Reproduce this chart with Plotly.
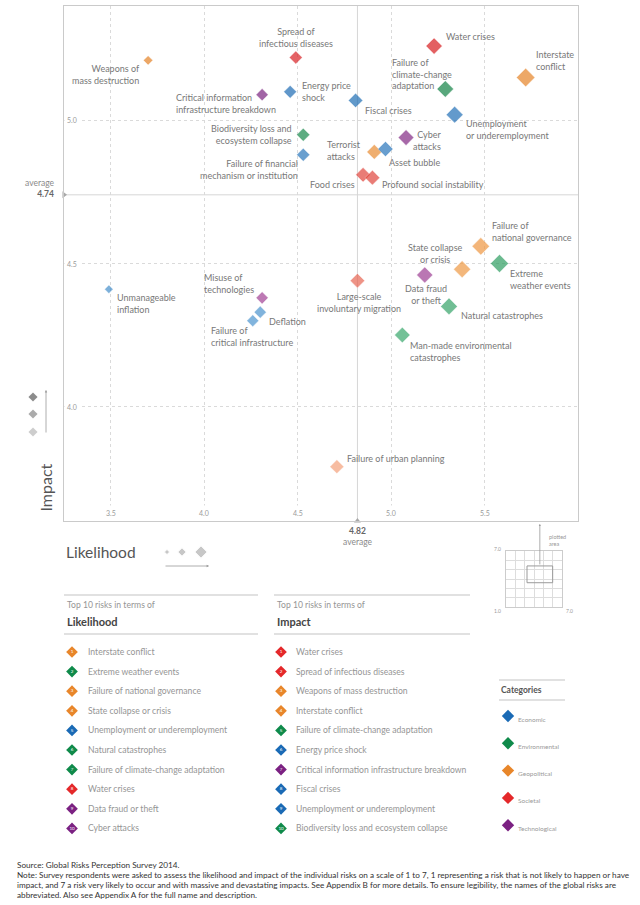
import plotly.graph_objects as go

W, H = 640, 905
FONT = "Lato"

# ---------------- data ----------------
RISKS = [
    "Weapons of mass destruction", "Spread of infectious diseases",
    "Critical information infrastructure breakdown", "Energy price shock",
    "Biodiversity loss and ecosystem collapse", "Failure of financial mechanism or institution",
    "Water crises", "Interstate conflict", "Failure of climate-change adaptation",
    "Fiscal crises", "Unemployment or underemployment", "Cyber attacks",
    "Terrorist attacks", "Asset bubble", "Food crises", "Profound social instability",
    "Failure of national governance", "State collapse or crisis", "Extreme weather events",
    "Data fraud or theft", "Large-scale involuntary migration", "Natural catastrophes",
    "Man-made environmental catastrophes", "Failure of urban planning",
    "Unmanageable inflation", "Misuse of technologies", "Deflation",
    "Failure of critical infrastructure",
]
LABELS = [
    "Weapons of<br>mass destruction", "Spread of<br>infectious diseases",
    "Critical information<br>infrastructure breakdown", "Energy price<br>shock",
    "Biodiversity loss and<br>ecosystem collapse", "Failure of financial<br>mechanism or institution",
    "Water crises", "Interstate<br>conflict", "Failure of<br>climate-change<br>adaptation",
    "Fiscal crises", "Unemployment<br>or underemployment", "Cyber<br>attacks",
    "Terrorist<br>attacks", "Asset bubble", "Food crises", "Profound social instability",
    "Failure of<br>national governance", "State collapse<br>or crisis", "Extreme<br>weather events",
    "Data fraud<br>or theft", "Large-scale<br>involuntary migration", "Natural catastrophes",
    "Man-made environmental<br>catastrophes", "Failure of urban planning",
    "Unmanageable<br>inflation", "Misuse of<br>technologies", "Deflation",
    "Failure of<br>critical infrastructure",
]
CATEGORY = [
    "Geopolitical", "Societal", "Technological", "Economic", "Environmental", "Economic",
    "Societal", "Geopolitical", "Environmental", "Economic", "Economic", "Technological",
    "Geopolitical", "Economic", "Societal", "Societal", "Geopolitical", "Geopolitical",
    "Environmental", "Technological", "Societal", "Environmental", "Environmental",
    "Societal", "Economic", "Technological", "Economic", "Economic",
]
LIKELIHOOD = [3.70, 4.49, 4.31, 4.46, 4.53, 4.53, 5.23, 5.72, 5.29, 4.81, 5.34, 5.08,
              4.91, 4.97, 4.85, 4.90, 5.48, 5.38, 5.58, 5.18, 4.82, 5.31, 5.06, 4.71,
              3.49, 4.31, 4.30, 4.26]
IMPACT = [5.21, 5.22, 5.09, 5.10, 4.95, 4.88, 5.26, 5.15, 5.11, 5.07, 5.02, 4.94,
          4.89, 4.90, 4.81, 4.80, 4.56, 4.48, 4.50, 4.46, 4.44, 4.35, 4.25, 3.79,
          4.41, 4.38, 4.33, 4.30]
AVG_LIKELIHOOD = 4.82
AVG_IMPACT = 4.74
X_TICKS = [3.5, 4.0, 4.5, 5.0, 5.5]
Y_TICKS = [4.0, 4.5, 5.0]
X_RANGE = [3.25, 6.0]
Y_RANGE = [3.6, 5.4]
SCALE_RANGE = [1, 7]

TOP_LIKELIHOOD = [
    "Interstate conflict", "Extreme weather events", "Failure of national governance",
    "State collapse or crisis", "Unemployment or underemployment", "Natural catastrophes",
    "Failure of climate-change adaptation", "Water crises", "Data fraud or theft", "Cyber attacks",
]
TOP_IMPACT = [
    "Water crises", "Spread of infectious diseases", "Weapons of mass destruction",
    "Interstate conflict", "Failure of climate-change adaptation", "Energy price shock",
    "Critical information infrastructure breakdown", "Fiscal crises",
    "Unemployment or underemployment", "Biodiversity loss and ecosystem collapse",
]
CATEGORIES = ["Economic", "Environmental", "Geopolitical", "Societal", "Technological"]

FOOTNOTE = [
    "Source: Global Risks Perception Survey 2014.",
    "Note: Survey respondents were asked to assess the likelihood and impact of the individual risks on a scale of 1 to 7, 1 representing a risk that is not likely to happen or have",
    "impact, and 7 a risk very likely to occur and with massive and devastating impacts. See Appendix B for more details. To ensure legibility, the names of the global risks are",
    "abbreviated. Also see Appendix A for the full name and description.",
]

# ---------------- styles ----------------
CAT_COLORS = {
    "Economic": "#1a6ab5", "Environmental": "#0f8a4a", "Geopolitical": "#e8862a",
    "Societal": "#e4282a", "Technological": "#7b2182",
}
# (high-impact shade, low-impact shade) per category
CAT_SHADES = {
    "Economic": ("#1262ad", "#6aaee0"), "Environmental": ("#0a7a3e", "#4cbb80"),
    "Geopolitical": ("#e47f22", "#f8b060"), "Societal": ("#d7191f", "#f5a07a"),
    "Technological": ("#6e1a78", "#c25aa8"),
}
# label placement: (xanchor, align, xshift, yshift)
LABEL_POS = [
    ("right", "right", -6, -14), ("center", "center", 0, 20), ("left", "left", -88, -9),
    ("left", "left", 10, 0), ("right", "right", -9, 0), ("right", "right", -3, -15),
    ("left", "left", 10, 10), ("left", "left", 8, 17), ("left", "left", -55, 15),
    ("left", "left", 7, -10), ("left", "left", 9, -15), ("right", "right", 38, -3),
    ("right", "left", -11, 1), ("left", "left", 2, -13), ("right", "right", -6, -10),
    ("left", "left", 8, -7), ("left", "left", 9, 15), ("center", "center", -27, 16),
    ("left", "left", 8, -16), ("center", "center", 1, -20), ("center", "center", 2, -22),
    ("left", "left", 10, -9), ("left", "left", 6, -16), ("left", "left", 8, 8),
    ("left", "left", 6, -14), ("right", "left", -6, 14), ("left", "left", 7, -9),
    ("left", "left", -44, -16),
]

MAIN_L, MAIN_R, MAIN_T, MAIN_B = 64, 578, 6, 521
INSET_L, INSET_R, INSET_T, INSET_B = 506, 562, 551, 607
LABEL_COLOR = "#787878"
TABLE_COLOR = "#959595"


def px(x):
    return x / W


def py(y):
    return 1 - y / H


def hex_rgb(h):
    return [int(h[i:i + 2], 16) for i in (1, 3, 5)]


def shade(cat, impact):
    dark, light = (hex_rgb(c) for c in CAT_SHADES[cat])
    t = min(max((5.3 - impact) / 1.5, 0.0), 1.0)
    r, g, b = (int(round(d + (l - d) * t)) for d, l in zip(dark, light))
    return f"rgb({r},{g},{b})"


fig = go.Figure()

# ---------------- main scatter ----------------
colors = [shade(c, imp) for c, imp in zip(CATEGORY, IMPACT)]
sizes = [(8.5 + (lk - 3.5) * 4.5) / 1.3 for lk in LIKELIHOOD]
fig.add_trace(go.Scatter(
    x=LIKELIHOOD, y=IMPACT, mode="markers", text=RISKS, hoverinfo="text",
    marker=dict(symbol="diamond", size=sizes, color=colors, line=dict(color="white", width=0.4)),
    cliponaxis=False, showlegend=False,
))
# average pointers
fig.add_trace(go.Scatter(
    x=[AVG_LIKELIHOOD], y=[Y_RANGE[0]], mode="markers", hoverinfo="skip",
    marker=dict(symbol="triangle-up", size=6, color="#a8a8a8"), cliponaxis=False, showlegend=False,
))
fig.add_trace(go.Scatter(
    x=[X_RANGE[0]], y=[AVG_IMPACT], mode="markers", hoverinfo="skip",
    marker=dict(symbol="triangle-right", size=6, color="#a8a8a8"), cliponaxis=False, showlegend=False,
))

for lab, lk, im, (xa, al, xs, ys) in zip(LABELS, LIKELIHOOD, IMPACT, LABEL_POS):
    fig.add_annotation(x=lk, y=im, xref="x", yref="y", text=lab, showarrow=False,
                       xanchor=xa, yanchor="middle", align=al, xshift=xs, yshift=ys,
                       font=dict(size=9, color=LABEL_COLOR, family=FONT))

# average lines
fig.add_shape(type="line", xref="x", yref="y domain", x0=AVG_LIKELIHOOD, x1=AVG_LIKELIHOOD,
              y0=0, y1=1, line=dict(color="#d6d6d6", width=1), layer="below")
fig.add_shape(type="line", xref="x domain", yref="y", x0=0, x1=1, y0=AVG_IMPACT, y1=AVG_IMPACT,
              line=dict(color="#d6d6d6", width=1), layer="below")

# tick labels sitting on the frame
for v in X_TICKS:
    fig.add_annotation(x=v, xref="x", y=0, yref="y domain", text=f"{v:.1f}", showarrow=False,
                       bgcolor="white", borderpad=3, font=dict(size=7, color="#9a9a9a", family=FONT))
for v in Y_TICKS:
    fig.add_annotation(x=0, xref="x domain", y=v, yref="y", text=f"{v:.1f}", showarrow=False,
                       bgcolor="white", borderpad=2, font=dict(size=7, color="#9a9a9a", family=FONT))

fig.add_annotation(x=px(56), y=py(188.5), xref="paper", yref="paper", xanchor="right",
                   yanchor="middle", align="right", showarrow=False,
                   text="<span style='color:#8a8a8a'>average</span><br><b>4.74</b>",
                   font=dict(size=8.5, color="#666", family=FONT))
fig.add_annotation(x=AVG_LIKELIHOOD, xref="x", y=py(536.5), yref="paper", xanchor="center",
                   yanchor="middle", align="center", showarrow=False,
                   text="<b>4.82</b><br><span style='color:#8a8a8a'>average</span>",
                   font=dict(size=8.5, color="#666", family=FONT))

# axis titles and size/shade keys
fig.add_annotation(x=px(33), y=py(488), xref="paper", yref="paper", text="Impact", textangle=-90,
                   showarrow=False, font=dict(size=16, color="#555", family=FONT))
fig.add_annotation(x=px(64), y=py(552), xref="paper", yref="paper", text="Likelihood",
                   xanchor="left", showarrow=False, font=dict(size=15.5, color="#555", family=FONT))
fig.add_annotation(x=px(46), y=py(390), xref="paper", yref="paper", ax=0, ay=44, text="",
                   showarrow=True, arrowhead=2, arrowsize=0.6, arrowwidth=0.8, arrowcolor="#999")
fig.add_annotation(x=px(209), y=py(566), xref="paper", yref="paper", ax=-45, ay=0, text="",
                   showarrow=True, arrowhead=2, arrowsize=0.6, arrowwidth=0.8, arrowcolor="#999")

# overlay pixel-space axes for keys and tables
fig.add_trace(go.Scatter(
    x=[33, 33, 33], y=[397, 414, 432], mode="markers", xaxis="x3", yaxis="y3", hoverinfo="skip",
    marker=dict(symbol="diamond", size=7, color=["#8c8c8c", "#ababab", "#cdcdcd"]), showlegend=False,
))
fig.add_trace(go.Scatter(
    x=[167, 182, 201], y=[552, 552, 552], mode="markers", xaxis="x3", yaxis="y3", hoverinfo="skip",
    marker=dict(symbol="diamond", size=[4, 6.5, 9.5], color="#b0b0b0"), showlegend=False,
))

# ---------------- tables ----------------
cat_of = dict(zip(RISKS, CATEGORY))
ROW0, ROWSTEP = 652, 19.6
for names, icon_x, text_x, x0, x1, title in [
    (TOP_LIKELIHOOD, 72, 86, 64, 258, "Likelihood"),
    (TOP_IMPACT, 281, 294, 274, 470, "Impact"),
]:
    ys = [ROW0 + i * ROWSTEP for i in range(len(names))]
    fig.add_trace(go.Scatter(
        x=[icon_x] * len(names), y=ys, mode="markers+text", xaxis="x3", yaxis="y3",
        hoverinfo="skip", text=[str(i + 1) for i in range(len(names))], textposition="middle center",
        textfont=dict(size=4.5, color="white", family=FONT),
        marker=dict(symbol="diamond", size=9, color=[CAT_COLORS[cat_of[n]] for n in names]),
        showlegend=False,
    ))
    for n, yy in zip(names, ys):
        fig.add_annotation(x=px(text_x), y=py(yy), xref="paper", yref="paper", text=n,
                           xanchor="left", yanchor="middle", showarrow=False,
                           font=dict(size=8.6, color=TABLE_COLOR, family=FONT))
    for ly in (595, 634):
        fig.add_shape(type="line", xref="paper", yref="paper", x0=px(x0), x1=px(x1),
                      y0=py(ly), y1=py(ly), line=dict(color="#c4c4c4", width=1.2))
    fig.add_annotation(x=px(x0 + 1), y=py(605), xref="paper", yref="paper",
                       text="Top 10 risks in terms of", xanchor="left", yanchor="middle",
                       showarrow=False, font=dict(size=8.6, color=TABLE_COLOR, family=FONT))
    fig.add_annotation(x=px(x0 + 1), y=py(621), xref="paper", yref="paper",
                       text=f"<b>{title}</b>", xanchor="left", yanchor="middle",
                       showarrow=False, font=dict(size=11, color="#444", family=FONT))

# categories key
cat_ys = [716 + i * 27.3 for i in range(len(CATEGORIES))]
fig.add_trace(go.Scatter(
    x=[508] * len(CATEGORIES), y=cat_ys, mode="markers", xaxis="x3", yaxis="y3", hoverinfo="skip",
    marker=dict(symbol="diamond", size=9.5, color=[CAT_COLORS[c] for c in CATEGORIES]),
    showlegend=False,
))
for c, yy in zip(CATEGORIES, cat_ys):
    fig.add_annotation(x=px(516), y=py(yy + 3), xref="paper", yref="paper", text=c,
                       xanchor="left", yanchor="middle", showarrow=False,
                       font=dict(size=6.5, color="#9a9a9a", family=FONT))
for ly in (680, 700):
    fig.add_shape(type="line", xref="paper", yref="paper", x0=px(499), x1=px(565),
                  y0=py(ly), y1=py(ly), line=dict(color="#c4c4c4", width=1.2))
fig.add_annotation(x=px(499), y=py(690), xref="paper", yref="paper", text="<b>Categories</b>",
                   xanchor="left", yanchor="middle", showarrow=False,
                   font=dict(size=8.5, color="#555", family=FONT))

# ---------------- inset: plotted area within 1-7 scale ----------------
fig.add_shape(type="rect", xref="x2", yref="y2", x0=X_RANGE[0], x1=X_RANGE[1],
              y0=Y_RANGE[0], y1=Y_RANGE[1], line=dict(color="#9a9a9a", width=1))
rect_top_px = INSET_B - (Y_RANGE[1] - SCALE_RANGE[0]) / (SCALE_RANGE[1] - SCALE_RANGE[0]) * (INSET_B - INSET_T)
fig.add_annotation(x=sum(X_RANGE) / 2, xref="x2", y=py(524), yref="paper", ax=0,
                   ay=rect_top_px - 524, text="", showarrow=True, arrowhead=2, arrowsize=0.5,
                   arrowwidth=0.8, arrowcolor="#999")
fig.add_annotation(x=px(547), y=py(540), xref="paper", yref="paper", text="plotted<br>area",
                   xanchor="left", yanchor="middle", align="left", showarrow=False,
                   font=dict(size=5.5, color="#999", family=FONT))
for txt, xx, yy, xa in [(f"{SCALE_RANGE[1]:.1f}", INSET_L - 3, INSET_T - 2, "right"),
                        (f"{SCALE_RANGE[0]:.1f}", INSET_L - 3, INSET_B + 4, "right"),
                        (f"{SCALE_RANGE[1]:.1f}", INSET_R + 2, INSET_B + 4, "left")]:
    fig.add_annotation(x=px(xx), y=py(yy), xref="paper", yref="paper", text=txt, xanchor=xa,
                       yanchor="middle", showarrow=False, font=dict(size=5, color="#999", family=FONT))

# ---------------- footnote ----------------
for i, line in enumerate(FOOTNOTE):
    fig.add_annotation(x=px(15), y=py(865 + i * 10), xref="paper", yref="paper", text=line,
                       xanchor="left", yanchor="middle", align="left", showarrow=False,
                       font=dict(size=8.2, color="#333", family=FONT))

fig.update_layout(
    width=W, height=H, margin=dict(l=0, r=0, t=0, b=0),
    paper_bgcolor="white", plot_bgcolor="rgba(0,0,0,0)",
    font=dict(family=FONT), showlegend=False, hovermode="closest",
    xaxis=dict(domain=[px(MAIN_L), px(MAIN_R)], range=X_RANGE, tickvals=X_TICKS,
               showticklabels=False, ticks="", showgrid=True, gridcolor="#dadada", griddash="dot",
               gridwidth=1, zeroline=False, showline=True, mirror=True, linecolor="#cacaca",
               linewidth=1.2, fixedrange=True),
    yaxis=dict(domain=[py(MAIN_B), py(MAIN_T)], range=Y_RANGE, tickvals=Y_TICKS,
               showticklabels=False, ticks="", showgrid=True, gridcolor="#dadada", griddash="dot",
               gridwidth=1, zeroline=False, showline=True, mirror=True, linecolor="#cacaca",
               linewidth=1.2, fixedrange=True),
    xaxis2=dict(domain=[px(INSET_L), px(INSET_R)], range=SCALE_RANGE, dtick=1, anchor="y2",
                showticklabels=False, ticks="", showgrid=True, gridcolor="#dddddd", zeroline=False,
                showline=True, mirror=True, linecolor="#cccccc", linewidth=1, fixedrange=True),
    yaxis2=dict(domain=[py(INSET_B), py(INSET_T)], range=SCALE_RANGE, dtick=1, anchor="x2",
                showticklabels=False, ticks="", showgrid=True, gridcolor="#dddddd", zeroline=False,
                showline=True, mirror=True, linecolor="#cccccc", linewidth=1, fixedrange=True),
    xaxis3=dict(domain=[0, 1], range=[0, W], anchor="y3", visible=False, fixedrange=True),
    yaxis3=dict(domain=[0, 1], range=[H, 0], anchor="x3", visible=False, fixedrange=True),
)

fig.write_html(
    "out.html",
    config={"displayModeBar": False},
    post_script="document.body.style.margin='0';document.body.style.overflow='hidden';",
)
